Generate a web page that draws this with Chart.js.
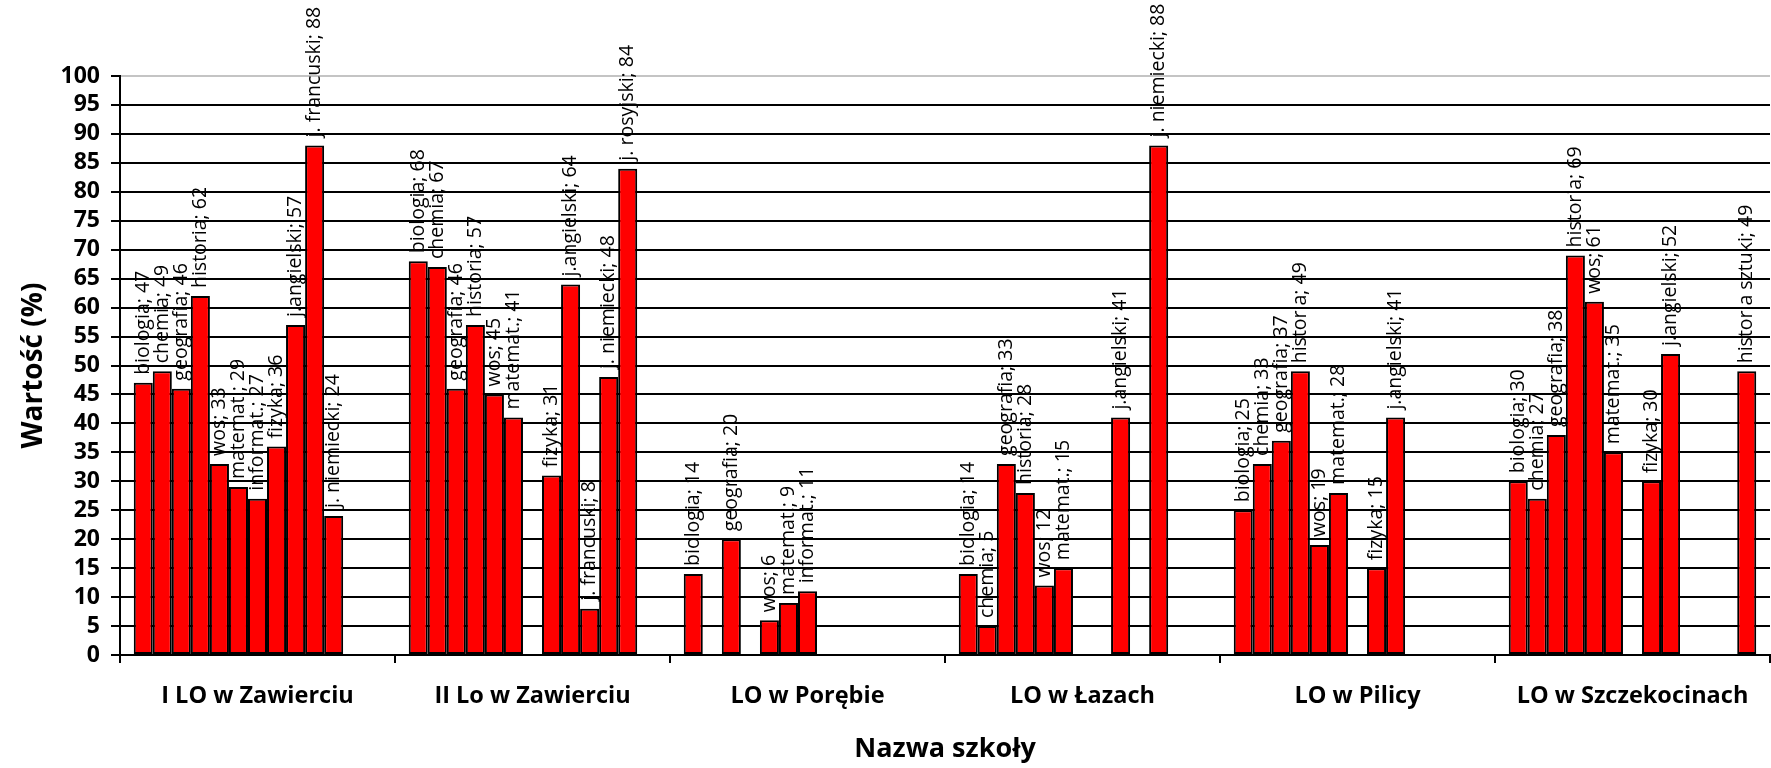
<!DOCTYPE html>
<html>
<head>
<meta charset="utf-8">
<script src="https://cdn.jsdelivr.net/npm/chart.js@4"></script>
<style>
  html, body { margin: 0; padding: 0; background: #fff; }
</style>
</head>
<body>
<canvas id="chart" width="1771" height="768"></canvas>
<script>
// --- Data ---
const schools = ['I LO w Zawierciu', 'II Lo w Zawierciu', 'LO w Porębie', 'LO w Łazach', 'LO w Pilicy', 'LO w Szczekocinach'];

const subjects = ['biologia', 'chemia', 'geografia', 'historia', 'wos', 'matemat.', 'informat.',
                  'fizyka', 'j.angielski', 'j. francuski', 'j. niemiecki', 'j. rosyjski', 'historia sztuki'];

// values per subject, one per school (null = no bar)
const biologia       = [47, 68, 14, 14, 25, 30];
const chemia         = [49, 67, null, 5, 33, 27];
const geografia      = [46, 46, 20, 33, 37, 38];
const historia       = [62, 57, null, 28, 49, 69];
const wos            = [33, 45, 6, 12, 19, 61];
const matemat        = [29, 41, 9, 15, 28, 35];
const informat       = [27, null, 11, null, null, null];
const fizyka         = [36, 31, null, null, 15, 30];
const jAngielski     = [57, 64, null, 41, 41, 52];
const jFrancuski     = [88, 8, null, null, null, null];
const jNiemiecki     = [24, 48, null, 88, null, null];
const jRosyjski      = [null, 84, null, null, null, null];
const historiaSztuki = [null, null, null, null, null, 49];

const yTicks = [0, 5, 10, 15, 20, 25, 30, 35, 40, 45, 50, 55, 60, 65, 70, 75, 80, 85, 90, 95, 100];

const seriesValues = [biologia, chemia, geografia, historia, wos, matemat, informat,
                      fizyka, jAngielski, jFrancuski, jNiemiecki, jRosyjski, historiaSztuki];

const FONT = '"Open Sans", "DejaVu Sans", sans-serif';

// --- Rotated "name; value" labels above every bar ---
const barLabels = {
    id: 'barLabels',
    afterDatasetsDraw(chart) {
        const c = chart.ctx;
        c.save();
        c.font = '500 19.5px ' + FONT;
        c.fillStyle = '#000';
        c.textAlign = 'left';
        c.textBaseline = 'middle';
        chart.data.datasets.forEach((ds, i) => {
            chart.getDatasetMeta(i).data.forEach((bar, j) => {
                const v = ds.data[j];
                if (v == null) return;
                c.save();
                c.translate(bar.x, bar.y - 8);
                c.rotate(-Math.PI / 2);
                c.fillText(ds.label + '; ' + v, 0, 0);
                c.restore();
            });
        });
        c.restore();
    }
};

new Chart(document.getElementById('chart').getContext('2d'), {
    type: 'bar',
    data: {
        labels: schools,
        datasets: subjects.map((name, i) => ({
            label: name,
            data: seriesValues[i],
            backgroundColor: '#ff0000',
            borderColor: '#000',
            borderWidth: 2,
            borderSkipped: false,
            categoryPercentage: 0.9,
            barPercentage: 1.0
        }))
    },
    options: {
        responsive: false,
        animation: false,
        layout: { padding: { top: 76, right: 1, bottom: 0, left: 0 } },
        plugins: {
            legend: { display: false },
            tooltip: { enabled: false }
        },
        scales: {
            x: {
                grid: { offset: true, drawOnChartArea: false, drawTicks: true, tickLength: 8, color: '#000', lineWidth: 2 },
                border: { color: '#000', width: 2 },
                ticks: { color: '#000', font: { family: FONT, size: 23.5, weight: 'bold' }, padding: 19, maxRotation: 0 },
                title: { display: true, text: 'Nazwa szkoły', color: '#000',
                         font: { family: FONT, size: 27, weight: 'bold' }, padding: { top: 0, bottom: 2 } },
                afterFit(s) { s.height = 113; }
            },
            y: {
                min: 0,
                max: 100,
                afterBuildTicks(s) { s.ticks = yTicks.map(v => ({ value: v })); },
                ticks: { color: '#000', font: { family: FONT, size: 23, weight: 'bold' }, padding: 11, autoSkip: false },
                grid: {
                    color: ctx => ctx.tick && ctx.tick.value === 100 ? '#c4c4c4' : '#000',
                    lineWidth: 2,
                    tickLength: 9,
                    tickColor: '#000'
                },
                border: { color: '#000', width: 2 },
                title: { display: true, text: 'Wartość (%)', color: '#000',
                         font: { family: FONT, size: 28, weight: 'bold' }, padding: { top: 17 } },
                afterFit(s) { s.width = 120; }
            }
        }
    },
    plugins: [barLabels]
});
</script>
</body>
</html>
